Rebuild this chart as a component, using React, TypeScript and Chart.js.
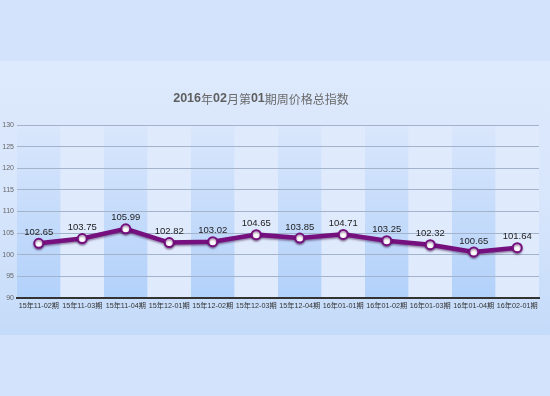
import React, { useEffect, useRef } from 'react';
import { Chart, registerables } from 'chart.js';
Chart.register(...registerables);

const titleText = '2016年02月第01期周价格总指数';
const categories = [
  '15年11-02期', '15年11-03期', '15年11-04期', '15年12-01期', '15年12-02期', '15年12-03期',
  '15年12-04期', '16年01-01期', '16年01-02期', '16年01-03期', '16年01-04期', '16年02-01期',
];
const values = [102.65, 103.75, 105.99, 102.82, 103.02, 104.65, 103.85, 104.71, 103.25, 102.32, 100.65, 101.64];
const yMin = 90;
const yMax = 130;
const yStep = 5;

const W = 550;
const H = 396;

const backgroundPlugin = {
  id: 'bgPanel',
  beforeDraw(chart: any) {
    const ctx = chart.ctx;
    ctx.save();
    ctx.fillStyle = '#d2e3fb';
    ctx.fillRect(0, 0, W, H);
    const g = ctx.createLinearGradient(0, 61, 0, 335);
    g.addColorStop(0, '#dde9fc');
    g.addColorStop(0.5, '#d8e6fc');
    g.addColorStop(1, '#c4dbf9');
    ctx.fillStyle = g;
    ctx.fillRect(0, 61, W, 274);

    const area = chart.chartArea;
    const xs = chart.scales.x;
    const n = categories.length;
    const bw = (area.right - area.left) / n;
    for (let i = 0; i < n; i++) {
      const cx = xs.getPixelForValue(i);
      const left = cx - bw / 2;
      if (i % 2 === 0) {
        const bg = ctx.createLinearGradient(0, area.top, 0, area.bottom);
        bg.addColorStop(0, '#dae7fc');
        bg.addColorStop(1, '#b2d1fa');
        ctx.fillStyle = bg;
      } else {
        ctx.fillStyle = '#dfeafc';
      }
      ctx.fillRect(left, area.top, bw, area.bottom - area.top);
    }

    // title with bold digits
    const parts = titleText.split(/(\d+)/).filter((p) => p.length > 0);
    const fontFor = (p: string) =>
      /^\d+$/.test(p)
        ? 'bold 12.5px "Liberation Sans", Arial, sans-serif'
        : '12px "Noto Sans CJK SC", sans-serif';
    let total = 0;
    for (const p of parts) {
      ctx.font = fontFor(p);
      total += ctx.measureText(p).width;
    }
    let x = 261 - total / 2;
    ctx.textBaseline = 'middle';
    ctx.textAlign = 'left';
    for (const p of parts) {
      ctx.font = fontFor(p);
      ctx.fillStyle = /^\d+$/.test(p) ? '#5e5e5e' : '#6a6a6a';
      ctx.fillText(p, x, 99);
      x += ctx.measureText(p).width;
    }
    ctx.restore();
  },
};

const lineShadowPlugin = {
  id: 'lineShadow',
  beforeDatasetDraw(chart: any) {
    const ctx = chart.ctx;
    ctx.save();
    ctx.shadowColor = 'rgba(50, 0, 60, 0.45)';
    ctx.shadowBlur = 2;
    ctx.shadowOffsetY = 1.5;
  },
  afterDatasetDraw(chart: any) {
    chart.ctx.restore();
  },
};

const labelsPlugin = {
  id: 'valueLabels',
  afterDatasetsDraw(chart: any) {
    const ctx = chart.ctx;
    const meta = chart.getDatasetMeta(0);
    ctx.save();
    ctx.font = '9.5px "Liberation Sans", Arial, sans-serif';
    ctx.fillStyle = '#222222';
    ctx.textAlign = 'center';
    ctx.textBaseline = 'middle';
    meta.data.forEach((pt: any, i: number) => {
      ctx.fillText(values[i].toFixed(2), pt.x, pt.y - 11);
    });
    ctx.restore();
  },
};

export default function App() {
  const ref = useRef<HTMLCanvasElement | null>(null);
  useEffect(() => {
    document.body.style.margin = '0';
    const canvas = ref.current!;
    const chart = new Chart(canvas, {
      type: 'line',
      data: {
        labels: categories,
        datasets: [
          {
            data: values,
            borderColor: '#76107f',
            borderWidth: 4.5,
            pointRadius: 4.5,
            pointBorderWidth: 2,
            pointBackgroundColor: '#ffffff',
            pointBorderColor: '#76107f',
            tension: 0,
          },
        ],
      },
      options: {
        responsive: false,
        animation: false,
        events: [],
        layout: { padding: { top: 125, right: 11, left: 0, bottom: 0 } },
        plugins: {
          legend: { display: false },
          tooltip: { enabled: false },
          title: { display: false },
        },
        scales: {
          x: {
            type: 'category',
            offset: true,
            grid: { display: false },
            border: { display: true, color: '#333333', width: 2 },
            ticks: {
              autoSkip: false,
              maxRotation: 0,
              minRotation: 0,
              padding: -4,
              color: '#333333',
              font: { size: 7.2, family: '"Liberation Sans", "Noto Sans CJK SC", sans-serif' },
            },
            afterFit(scale: any) {
              scale.height = H - 298;
            },
          },
          y: {
            min: yMin,
            max: yMax,
            ticks: {
              stepSize: yStep,
              padding: 3,
              color: '#666666',
              font: { size: 7, family: '"Liberation Sans", Arial, sans-serif' },
            },
            grid: { color: '#a3b3cb', lineWidth: 1, drawTicks: false },
            border: { display: false },
            afterFit(scale: any) {
              scale.width = 17;
            },
          },
        },
      },
      plugins: [backgroundPlugin, lineShadowPlugin, labelsPlugin],
    });
    return () => chart.destroy();
  }, []);
  return (
    <div style={{ position: 'fixed', left: 0, top: 0, width: W, height: H }}>
      <canvas ref={ref} width={W} height={H} style={{ display: 'block' }} />
    </div>
  );
}
